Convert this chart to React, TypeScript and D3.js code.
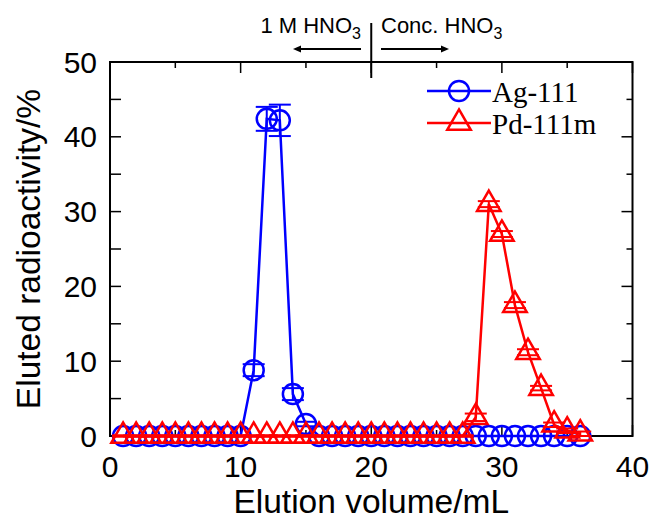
import React from 'react';
import * as d3 from 'd3';

// elution volume (mL) for each 1 mL fraction
const volumes = d3.range(1, 37);

// Ag-111 eluted radioactivity (%) and errors
const agValues = [
  0, 0, 0, 0, 0, 0, 0, 0, 0, 0,
  8.8, 42.4, 42.2, 5.6, 1.6, 0, 0, 0, 0, 0,
  0, 0, 0, 0, 0, 0, 0, 0, 0, 0,
  0, 0, 0, 0, 0, 0,
];
const agErrors = [
  0, 0, 0, 0, 0, 0, 0, 0, 0, 0,
  0.8, 1.6, 2.1, 0.8, 0.3, 0, 0, 0, 0, 0,
  0, 0, 0, 0, 0, 0, 0, 0, 0, 0,
  0, 0, 0, 0, 0, 0,
];

// Pd-111m eluted radioactivity (%) and errors
const pdValues = [
  0, 0, 0, 0, 0, 0, 0, 0, 0, 0,
  0, 0, 0, 0, 0, 0, 0, 0, 0, 0,
  0, 0, 0, 0, 0, 0, 0, 2.5, 31.0, 27.0,
  17.5, 11.2, 6.4, 1.5, 0.7, 0.3,
];
const pdErrors = [
  0.1, 0.1, 0.1, 0.1, 0.1, 0.1, 0.1, 0.1, 0.1, 0.1,
  0.1, 0.1, 0.1, 0.1, 0.1, 0.1, 0.1, 0.1, 0.1, 0.1,
  0.1, 0.1, 0.1, 0.1, 0.1, 0.1, 0.1, 0.5, 0.4, 0.4,
  0.4, 0.4, 0.3, 0.3, 0.3, 0.3,
];

const xTicks = [0, 10, 20, 30, 40];
const yTicks = [0, 10, 20, 30, 40, 50];
const xMinor = d3.range(0, 41, 5);
const yMinor = d3.range(0, 51, 5);

const left = 110;
const right = 632.5;
const top = 62;
const bottom = 436;

const x = d3.scaleLinear().domain([0, 40]).range([left, right]);
const y = d3.scaleLinear().domain([0, 50]).range([bottom, top]);

const line = d3
  .line<number>()
  .x((_, i) => x(volumes[i]))
  .y((d) => y(d));

const tri = d3.symbol().type(d3.symbolTriangle).size(240)() as string;

const BLUE = '#0000ff';
const RED = '#ff0000';
const sans = '"Liberation Sans", Arial, sans-serif';
const serif = '"Liberation Serif", "Times New Roman", serif';

function ErrorBars({ values, errors, color }: { values: number[]; errors: number[]; color: string }) {
  return (
    <g stroke={color} strokeWidth={2}>
      {values.map((v, i) => {
        const cx = x(volumes[i]);
        const y1 = y(v + errors[i]);
        const y0 = y(v - errors[i]);
        return (
          <g key={i}>
            <line x1={cx} x2={cx} y1={y1} y2={y0} />
            <line x1={cx - 11} x2={cx + 11} y1={y1} y2={y1} />
            <line x1={cx - 11} x2={cx + 11} y1={y0} y2={y0} />
          </g>
        );
      })}
    </g>
  );
}

export default function App() {
  return (
    <svg width={652} height={519} style={{ display: 'block', position: 'absolute', left: 0, top: 0 }}>
      <rect width={652} height={519} fill="#fff" />

      {/* ticks */}
      <g stroke="#000" strokeWidth={1.5}>
        {yMinor.map((t) => (
          <g key={'y' + t}>
            <line x1={left} x2={left + 11} y1={y(t)} y2={y(t)} />
            <line x1={right} x2={right - (t % 10 === 0 ? 11 : 6)} y1={y(t)} y2={y(t)} />
          </g>
        ))}
        {xMinor.map((t) => (
          <g key={'x' + t}>
            <line x1={x(t)} x2={x(t)} y1={bottom} y2={bottom - (t % 10 === 0 ? 11 : 6)} />
            <line x1={x(t)} x2={x(t)} y1={top} y2={top + (t % 10 === 0 ? 11 : 6)} />
          </g>
        ))}
      </g>
      <rect x={left} y={top} width={right - left} height={bottom - top} fill="none" stroke="#000" strokeWidth={2} />

      {/* tick labels */}
      <g fontFamily={sans} fontSize={30} fill="#000">
        {yTicks.map((t) => (
          <text key={t} x={97} y={y(t)} textAnchor="end" dominantBaseline="central">
            {t}
          </text>
        ))}
        {xTicks.map((t) => (
          <text key={t} x={x(t)} y={477} textAnchor="middle">
            {t}
          </text>
        ))}
      </g>
      <text x={(left + right) / 2} y={513} textAnchor="middle" fontFamily={sans} fontSize={33.5}>
        Elution volume/mL
      </text>
      <text
        transform={`translate(40,${(top + bottom) / 2}) rotate(-90)`}
        textAnchor="middle"
        fontFamily={sans}
        fontSize={33.5}
      >
        Eluted radioactivity/%
      </text>

      {/* eluent change annotation */}
      <line x1={x(20)} x2={x(20)} y1={23} y2={78} stroke="#000" strokeWidth={2} />
      <g fontFamily={sans} fontSize={22}>
        <text x={361} y={33} textAnchor="end">
          1 M HNO<tspan fontSize={16} dy={6}>3</tspan>
        </text>
        <text x={381} y={33}>
          Conc. HNO<tspan fontSize={16} dy={6}>3</tspan>
        </text>
      </g>
      <g stroke="#000" strokeWidth={2}>
        <line x1={361} x2={298} y1={49} y2={49} />
        <line x1={381} x2={444} y1={49} y2={49} />
      </g>
      <path d="M293,49 L301,45.5 L301,52.5 Z" fill="#000" />
      <path d="M449,49 L441,45.5 L441,52.5 Z" fill="#000" />

      {/* Ag-111 */}
      <path d={line(agValues) as string} fill="none" stroke={BLUE} strokeWidth={2.5} />
      <ErrorBars values={agValues} errors={agErrors} color={BLUE} />
      <g fill="none" stroke={BLUE} strokeWidth={2.5}>
        {agValues.map((v, i) => (
          <circle key={i} cx={x(volumes[i])} cy={y(v)} r={10} />
        ))}
      </g>

      {/* Pd-111m */}
      <path d={line(pdValues) as string} fill="none" stroke={RED} strokeWidth={2.5} />
      <ErrorBars values={pdValues} errors={pdErrors} color={RED} />
      <g fill="none" stroke={RED} strokeWidth={2.5}>
        {pdValues.map((v, i) => (
          <path key={i} d={tri} transform={`translate(${x(volumes[i])},${y(v)})`} />
        ))}
      </g>

      {/* legend */}
      <g strokeWidth={2.5} fill="none">
        <line x1={427} x2={491} y1={91} y2={91} stroke={BLUE} />
        <circle cx={459} cy={91} r={10} stroke={BLUE} />
        <line x1={427} x2={491} y1={123} y2={123} stroke={RED} />
        <path d={tri} transform="translate(459,123)" stroke={RED} />
      </g>
      <g fontFamily={serif} fontSize={29} fill="#000">
        <text x={492} y={102}>Ag-111</text>
        <text x={492} y={134}>Pd-111m</text>
      </g>
    </svg>
  );
}
